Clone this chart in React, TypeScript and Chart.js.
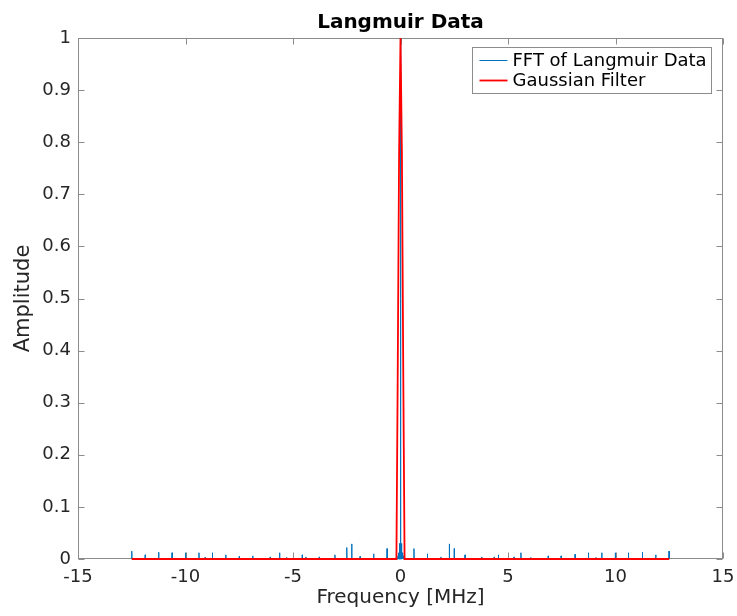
import React, { useEffect, useRef } from 'react';
import { Chart, registerables } from 'chart.js';

Chart.register(...registerables);

const titleText = 'Langmuir Data';
const xLabel = 'Frequency [MHz]';
const yLabel = 'Amplitude';
const seriesNames = ['FFT of Langmuir Data', 'Gaussian Filter'];
const xTicks = [-15, -10, -5, 0, 5, 10, 15];
const yTicks = [0, 0.1, 0.2, 0.3, 0.4, 0.5, 0.6, 0.7, 0.8, 0.9, 1];

// FFT spectrum: spike frequencies (MHz) and amplitudes
const fftFreq = [
  -12.5, -11.875, -11.25, -10.625, -10.0, -9.375, -9.09, -8.75, -8.125, -7.5, -6.875, -6.06,
  -5.625, -5.3, -4.57, -4.4, -3.78, -3.05, -2.5, -2.27, -1.88, -1.25, -0.625,
  -0.12, -0.08, -0.04, 0, 0.04, 0.08, 0.12,
  0.625, 1.25, 1.88, 2.27, 2.5, 3.0, 3.78, 4.36, 4.55, 5.28, 5.6, 6.06, 6.87, 7.47,
  8.12, 8.74, 9.09, 9.36, 9.99, 10.6, 11.25, 11.87, 12.49,
];
const fftAmp = [
  0.015, 0.008, 0.013, 0.012, 0.012, 0.012, 0.003, 0.012, 0.008, 0.005, 0.006, 0.004,
  0.012, 0.003, 0.008, 0.004, 0.004, 0.008, 0.022, 0.029, 0.005, 0.01, 0.02,
  0.006, 0.012, 0.03, 1.0, 0.03, 0.012, 0.006,
  0.02, 0.01, 0.004, 0.029, 0.02, 0.008, 0.004, 0.004, 0.008, 0.004, 0.012, 0.003, 0.006, 0.006,
  0.009, 0.012, 0.003, 0.012, 0.012, 0.012, 0.013, 0.008, 0.015,
];

// Gaussian filter samples
const gaussFreq = [-12.5, -0.19, -0.13, -0.065, 0, 0.065, 0.13, 0.19, 12.5];
const gaussAmp = [0, 0, 0.35, 0.78, 1, 0.78, 0.35, 0, 0];

const FONT = 'DejaVu Sans';
const TEXT = '#262626';
const AXIS = '#8c8c8c';
const BLUE = '#0072BD';
const RED = '#FF0000';

function buildFft() {
  const pts: { x: number; y: number }[] = [];
  const hw = 0.012;
  fftFreq.forEach((f, i) => {
    pts.push({ x: f - hw, y: 0 });
    pts.push({ x: f, y: fftAmp[i] });
    pts.push({ x: f + hw, y: 0 });
  });
  return pts;
}

const axesPlugin = {
  id: 'matlabAxes',
  beforeDatasetsDraw(chart: any) {
    const { ctx, chartArea: a, scales } = chart;
    const L = Math.round(a.left) + 0.5;
    const R = Math.round(a.right) - 0.5;
    const T = Math.round(a.top) + 0.5;
    const B = Math.round(a.bottom) - 0.5;
    ctx.save();
    ctx.strokeStyle = AXIS;
    ctx.lineWidth = 1;
    ctx.strokeRect(L, T, R - L, B - T);
    const tl = 6;
    ctx.beginPath();
    xTicks.forEach((v) => {
      const px = Math.round(scales.x.getPixelForValue(v)) + 0.5;
      ctx.moveTo(px, B);
      ctx.lineTo(px, B - tl);
      ctx.moveTo(px, T);
      ctx.lineTo(px, T + tl);
    });
    yTicks.forEach((v) => {
      const py = Math.round(scales.y.getPixelForValue(v)) + 0.5;
      ctx.moveTo(L, py);
      ctx.lineTo(L + tl, py);
      ctx.moveTo(R, py);
      ctx.lineTo(R - tl, py);
    });
    ctx.stroke();
    ctx.restore();
  },
  afterDatasetsDraw(chart: any) {
    const { ctx, chartArea: a } = chart;
    ctx.save();
    // title
    ctx.fillStyle = '#000';
    ctx.font = `bold 20px "${FONT}"`;
    ctx.textAlign = 'center';
    ctx.textBaseline = 'alphabetic';
    ctx.fillText(titleText, (a.left + a.right) / 2, 28);
    // legend
    const bx = Math.round(a.right) - 250.5;
    const by = Math.round(a.top) + 9.5;
    const bw = 239;
    const bh = 46;
    ctx.fillStyle = '#fff';
    ctx.fillRect(bx, by, bw, bh);
    ctx.strokeStyle = AXIS;
    ctx.lineWidth = 1;
    ctx.strokeRect(bx, by, bw, bh);
    const colors = [BLUE, RED];
    const widths = [1, 1.8];
    seriesNames.forEach((name, i) => {
      const cy = by + 13 + i * 20;
      ctx.strokeStyle = colors[i];
      ctx.lineWidth = widths[i];
      ctx.beginPath();
      ctx.moveTo(bx + 7, cy);
      ctx.lineTo(bx + 35, cy);
      ctx.stroke();
      ctx.fillStyle = '#000';
      ctx.font = `18px "${FONT}"`;
      ctx.textAlign = 'left';
      ctx.textBaseline = 'middle';
      ctx.fillText(name, bx + 40, cy + 1);
    });
    ctx.restore();
  },
};

export default function App() {
  const ref = useRef<HTMLCanvasElement>(null);
  useEffect(() => {
    if (!ref.current) return;
    const chart = new Chart(ref.current, {
      type: 'line',
      data: {
        datasets: [
          {
            label: seriesNames[0],
            data: buildFft(),
            borderColor: BLUE,
            borderWidth: 1,
            pointRadius: 0,
            tension: 0,
            order: 1,
            clip: 4,
          } as any,
          {
            label: seriesNames[1],
            data: gaussFreq.map((f, i) => ({ x: f, y: gaussAmp[i] })),
            borderColor: RED,
            borderWidth: 1.8,
            pointRadius: 0,
            tension: 0,
            order: 0,
            clip: 4,
          } as any,
        ],
      },
      options: {
        animation: false,
        responsive: false,
        events: [],
        layout: { padding: { top: 38, right: 14, bottom: 0, left: 0 } },
        plugins: { legend: { display: false }, title: { display: false }, tooltip: { enabled: false } },
        scales: {
          x: {
            type: 'linear',
            min: -15,
            max: 15,
            afterBuildTicks: (s: any) => {
              s.ticks = xTicks.map((v) => ({ value: v }));
            },
            afterFit: (s: any) => {
              s.height = 57;
              s.paddingLeft = 0;
              s.paddingRight = 0;
            },
            grid: { display: false, drawTicks: false },
            border: { display: false },
            ticks: {
              font: { family: FONT, size: 18 },
              color: TEXT,
              padding: 8,
              maxRotation: 0,
              autoSkip: false,
              callback: (v: any) => String(v),
            },
            title: {
              display: true,
              text: xLabel,
              font: { family: FONT, size: 20 },
              color: TEXT,
              padding: { top: 0, bottom: 6 },
            },
          },
          y: {
            type: 'linear',
            min: 0,
            max: 1,
            afterBuildTicks: (s: any) => {
              s.ticks = yTicks.map((v) => ({ value: v }));
            },
            afterFit: (s: any) => {
              s.width = 78;
              s.paddingTop = 0;
              s.paddingBottom = 0;
            },
            grid: { display: false, drawTicks: false },
            border: { display: false },
            ticks: {
              font: { family: FONT, size: 18 },
              color: TEXT,
              padding: 7,
              autoSkip: false,
              callback: (v: any) => String(Math.round(v * 10) / 10),
            },
            title: {
              display: true,
              text: yLabel,
              font: { family: FONT, size: 21 },
              color: TEXT,
              padding: { top: 11, bottom: 0 },
            },
          },
        },
      },
      plugins: [axesPlugin],
    } as any);
    return () => chart.destroy();
  }, []);
  return (
    <div style={{ position: 'fixed', left: 0, top: 0, width: 737, height: 616, background: '#fff' }}>
      <canvas ref={ref} width={737} height={616} style={{ display: 'block' }} />
    </div>
  );
}
